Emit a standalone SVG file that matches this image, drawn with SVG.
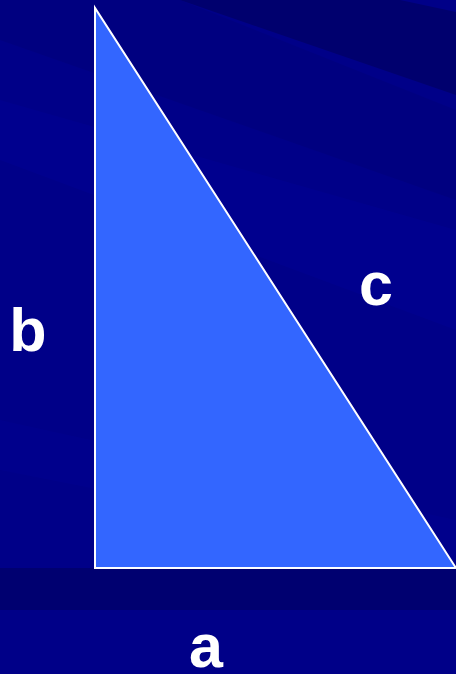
<svg xmlns="http://www.w3.org/2000/svg" width="456" height="674" viewBox="0 0 456 674">
  <style>
    .lbl { font-family: "Liberation Sans", Arial, sans-serif; font-weight: bold; font-size: 61px; fill: #FFFFFF; text-anchor: middle; }
  </style>
  <g id="background">
    <rect x="0" y="0" width="456" height="674" fill="#000088"/>
    <polygon points="0,0 180,0 456,110 456,200 0,40" fill="#000080"/>
    <polygon points="180,0 456,0 456,95" fill="#00006E"/>
    <polygon points="400,0 456,0 456,12" fill="#000088"/>
    <polygon points="0,100 456,230 456,330 0,160" fill="#000090" opacity="0.8"/>
    <polygon points="0,420 456,520 456,560 0,470" fill="#00008F" opacity="0.7"/>
    <rect x="0" y="568" width="456" height="42" fill="#000070"/>
    <rect x="0" y="610" width="456" height="64" fill="#000088"/>
  </g>
  <g id="triangle">
    <polygon points="95,8 95,568 456,568" fill="#3366FF" stroke="#FFFFFF" stroke-width="2" stroke-linejoin="miter"/>
  </g>
  <g id="label-b"><text class="lbl" x="28" y="351">b</text></g>
  <g id="label-c"><text class="lbl" x="376" y="305">c</text></g>
  <g id="label-a"><text class="lbl" x="206" y="667">a</text></g>
</svg>
